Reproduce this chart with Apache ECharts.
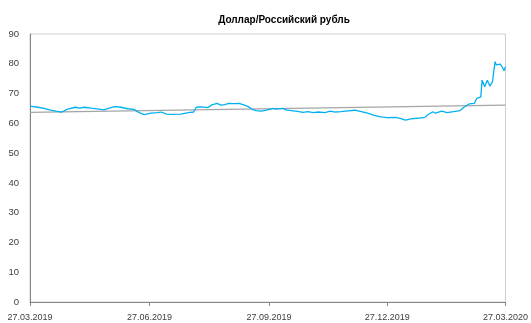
<!DOCTYPE html>
<html>
<head>
<meta charset="utf-8">
<script src="https://cdn.jsdelivr.net/npm/echarts@6/dist/echarts.min.js"></script>
<style>
  html, body { margin: 0; padding: 0; background: #fff; }
  #chart { width: 531px; height: 323px; }
</style>
</head>
<body>
<div id="chart"></div>
<script>
// USD/RUB exchange rate, 27.03.2019 – 27.03.2020
const rateDates = [
  '2019-03-27','2019-04-02','2019-04-07','2019-04-11','2019-04-16','2019-04-20','2019-04-22','2019-04-25',
  '2019-05-01','2019-05-04','2019-05-08','2019-05-13','2019-05-19','2019-05-23','2019-05-27','2019-05-31',
  '2019-06-05','2019-06-10','2019-06-15','2019-06-19','2019-06-23','2019-06-28','2019-07-03','2019-07-06',
  '2019-07-10','2019-07-14','2019-07-21','2019-07-27','2019-07-31','2019-08-02','2019-08-06','2019-08-11',
  '2019-08-14','2019-08-18','2019-08-19','2019-08-21','2019-08-24','2019-08-27','2019-08-31','2019-09-04',
  '2019-09-08','2019-09-11','2019-09-14','2019-09-17','2019-09-21','2019-09-26','2019-09-30','2019-10-02',
  '2019-10-08','2019-10-10','2019-10-14','2019-10-19','2019-10-23','2019-10-27','2019-10-31','2019-11-04',
  '2019-11-09','2019-11-13','2019-11-17','2019-11-21','2019-11-27','2019-12-02','2019-12-07','2019-12-12',
  '2019-12-17','2019-12-22','2019-12-27','2020-01-02','2020-01-06','2020-01-10','2020-01-14','2020-01-19',
  '2020-01-25','2020-01-27','2020-01-31','2020-02-02','2020-02-07','2020-02-11','2020-02-16','2020-02-21',
  '2020-02-24','2020-02-28','2020-03-03','2020-03-05','2020-03-08','2020-03-09','2020-03-11','2020-03-13',
  '2020-03-15','2020-03-16','2020-03-17','2020-03-19','2020-03-20','2020-03-23','2020-03-25','2020-03-26',
  '2020-03-27'
];
const rateValues = [
  65.8, 65.4, 65.0, 64.5, 64.1, 63.8, 64.1, 64.8,
  65.4, 65.1, 65.4, 65.1, 64.8, 64.5, 65.1, 65.6,
  65.4, 64.9, 64.7, 63.6, 62.9, 63.4, 63.6, 63.8,
  63.1, 63.0, 63.1, 63.6, 63.8, 65.4, 65.5, 65.3,
  66.2, 66.7, 67.1, 66.1, 66.3, 66.7, 66.6, 66.7,
  66.1, 65.6, 64.7, 64.3, 64.1, 64.5, 65.0, 64.8,
  65.0, 64.5, 64.3, 64.0, 63.7, 63.9, 63.6, 63.8,
  63.6, 64.1, 63.8, 63.9, 64.2, 64.4, 63.9, 63.4,
  62.7, 62.2, 61.9, 62.0, 61.7, 61.1, 61.5, 61.7,
  62.0, 62.8, 63.9, 63.4, 64.1, 63.6, 63.9, 64.3,
  65.4, 66.5, 66.7, 68.4, 68.9, 74.5, 72.3, 74.5,
  72.5, 72.3, 74.0, 80.7, 79.6, 79.9, 78.5, 77.7,
  79.0
];

// Linear trend line endpoints
const trendDates = ['2019-03-27', '2020-03-27'];
const trendValues = [63.7, 66.1];

// Quarterly date labels on the x axis
const xTickLabels = ['27.03.2019', '27.06.2019', '27.09.2019', '27.12.2019', '27.03.2020'];

const yMin = 0, yMax = 90, yStep = 10;

// Dates are placed on a numeric axis as day numbers (UTC days since epoch)
const DAY = 86400000;
function isoToDay(s) {
  const [y, m, d] = s.split('-').map(Number);
  return Date.UTC(y, m - 1, d) / DAY;
}
function dmyToDay(s) {
  const [d, m, y] = s.split('.').map(Number);
  return Date.UTC(y, m - 1, d) / DAY;
}
function pad(n) { return n < 10 ? '0' + n : '' + n; }
function dayToDMY(v) {
  const t = new Date(Math.round(v) * DAY);
  return pad(t.getUTCDate()) + '.' + pad(t.getUTCMonth() + 1) + '.' + t.getUTCFullYear();
}

const xTicks = xTickLabels.map(dmyToDay);
const font = "'Liberation Sans', Arial, sans-serif";

const chart = echarts.init(document.getElementById('chart'), null, { renderer: 'canvas' });
chart.setOption({
  animation: false,
  backgroundColor: '#ffffff',
  title: {
    text: 'Доллар/Российский рубль',
    left: 279,
    top: 10,
    textAlign: 'center',
    textStyle: { fontFamily: font, fontSize: 10, fontWeight: 'bold', color: '#000000' }
  },
  grid: {
    left: 30, right: 23, top: 34, bottom: 21,
    show: true, borderColor: '#cfcfcf', borderWidth: 1, backgroundColor: 'transparent'
  },
  xAxis: {
    type: 'value',
    min: xTicks[0],
    max: xTicks[xTicks.length - 1],
    axisLine: { show: true, onZero: false, lineStyle: { color: '#868686', width: 1 } },
    axisTick: { show: true, length: 4, customValues: xTicks, lineStyle: { color: '#868686' } },
    splitLine: { show: false },
    axisLabel: {
      customValues: xTicks,
      formatter: (v) => dayToDMY(v),
      fontFamily: font, fontSize: 9, color: '#404040', margin: 11,
      showMinLabel: true, showMaxLabel: true
    }
  },
  yAxis: {
    type: 'value',
    min: yMin, max: yMax, interval: yStep,
    axisLine: { show: true, lineStyle: { color: '#868686', width: 1 } },
    axisTick: { show: false },
    splitLine: { show: false },
    axisLabel: { fontFamily: font, fontSize: 9.5, color: '#404040', margin: 11 }
  },
  series: [
    {
      name: 'Тренд',
      type: 'line',
      data: trendDates.map((d, i) => [isoToDay(d), trendValues[i]]),
      showSymbol: false,
      lineStyle: { color: '#a5a5a5', width: 1.25 },
      z: 2
    },
    {
      name: 'USD/RUB',
      type: 'line',
      data: rateDates.map((d, i) => [isoToDay(d), rateValues[i]]),
      showSymbol: false,
      lineStyle: { color: '#00b0f0', width: 1.3 },
      z: 3
    }
  ]
});
</script>
</body>
</html>
